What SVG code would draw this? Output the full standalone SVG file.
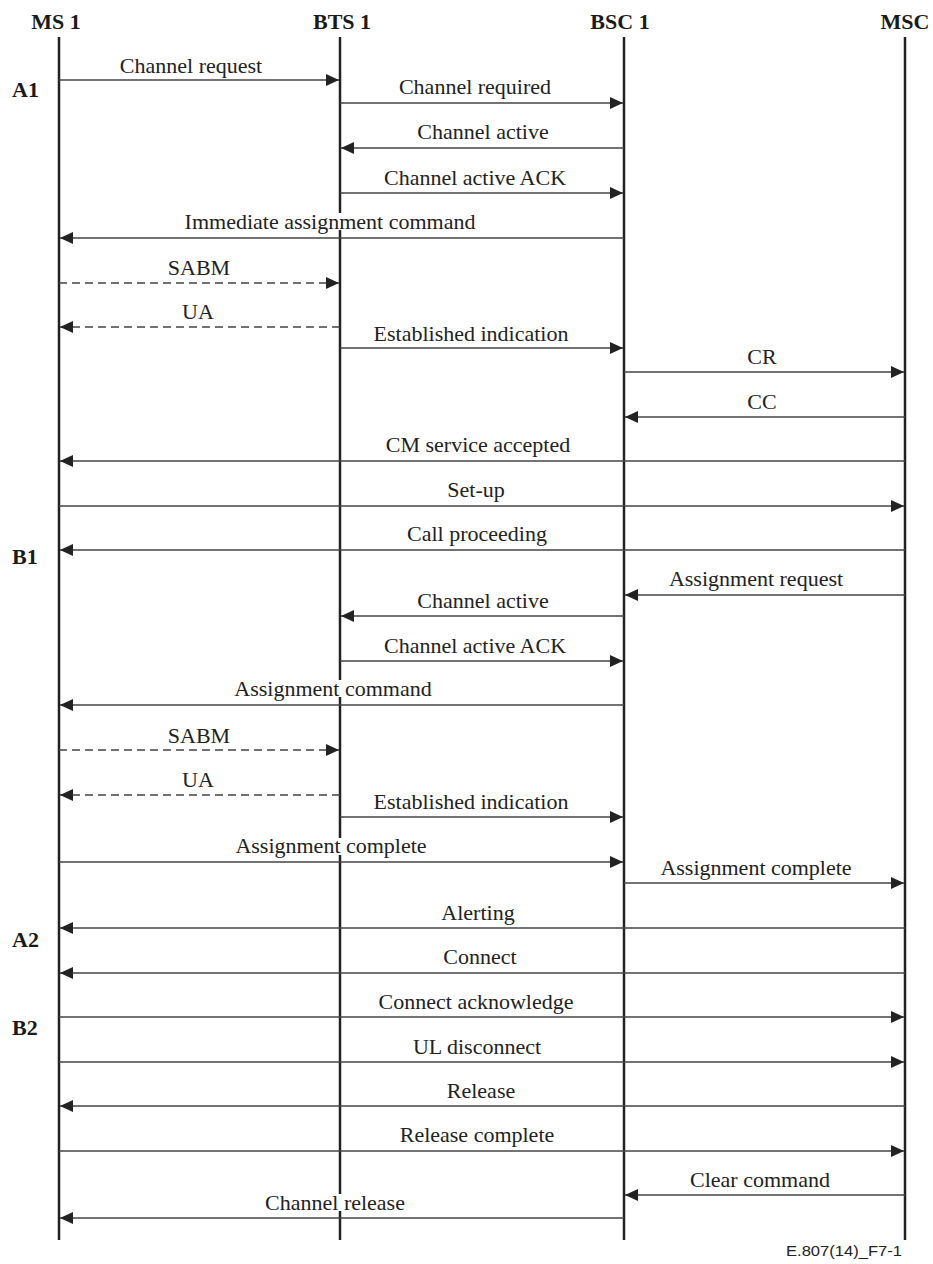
<svg xmlns="http://www.w3.org/2000/svg" width="933" height="1264" viewBox="0 0 933 1264">
<style>
.hdr{font-family:"Liberation Serif","Times New Roman",serif;font-weight:bold;font-size:22px;fill:#1a1a1a;text-anchor:middle}
.side{font-family:"Liberation Serif","Times New Roman",serif;font-weight:bold;font-size:22px;fill:#1a1a1a}
.lbl{font-family:"Liberation Serif","Times New Roman",serif;font-size:22px;fill:#222;text-anchor:middle}
.life{stroke:#222;stroke-width:2.5;fill:none}
.msg{stroke:#444;stroke-width:1.3;fill:none;marker-end:url(#ah)}
.dash{stroke-dasharray:8 5}
.mask{fill:#fff}
.foot{font-family:"Liberation Sans",Arial,sans-serif;font-size:14px;fill:#222;text-anchor:end}
</style>
<defs>
<marker id="ah" markerUnits="userSpaceOnUse" markerWidth="14" markerHeight="13" refX="13" refY="6" orient="auto">
<path d="M0,0 L13,6 L0,12 z" fill="#222"/>
</marker>
</defs>
<rect width="933" height="1264" fill="#fff"/>
<g id="node-ms1"><text class="hdr" x="56" y="29">MS 1</text><line class="life" x1="59" y1="37" x2="59" y2="1240"/></g>
<g id="node-bts1"><text class="hdr" x="342" y="29">BTS 1</text><line class="life" x1="340" y1="37" x2="340" y2="1240"/></g>
<g id="node-bsc1"><text class="hdr" x="620" y="29">BSC 1</text><line class="life" x1="624" y1="37" x2="624" y2="1240"/></g>
<g id="node-msc"><text class="hdr" x="905" y="29">MSC</text><line class="life" x1="905" y1="37" x2="905" y2="1240"/></g>
<g id="side-labels">
<text class="side" x="12" y="97">A1</text>
<text class="side" x="12" y="564">B1</text>
<text class="side" x="12" y="947">A2</text>
<text class="side" x="12" y="1035">B2</text>
</g>
<g id="connectors">
<line class="msg" x1="59" y1="80" x2="339" y2="80"/>
<line class="msg" x1="340" y1="103" x2="623" y2="103"/>
<line class="msg" x1="624" y1="148" x2="341" y2="148"/>
<line class="msg" x1="340" y1="193" x2="623" y2="193"/>
<line class="msg" x1="624" y1="238" x2="60" y2="238"/>
<line class="msg dash" x1="59" y1="283" x2="339" y2="283"/>
<line class="msg dash" x1="340" y1="327" x2="60" y2="327"/>
<line class="msg" x1="340" y1="348" x2="623" y2="348"/>
<line class="msg" x1="624" y1="372" x2="904" y2="372"/>
<line class="msg" x1="905" y1="417" x2="625" y2="417"/>
<line class="msg" x1="905" y1="461" x2="60" y2="461"/>
<line class="msg" x1="59" y1="506" x2="904" y2="506"/>
<line class="msg" x1="905" y1="550" x2="60" y2="550"/>
<line class="msg" x1="905" y1="595" x2="625" y2="595"/>
<line class="msg" x1="624" y1="616" x2="341" y2="616"/>
<line class="msg" x1="340" y1="661" x2="623" y2="661"/>
<line class="msg" x1="624" y1="705" x2="60" y2="705"/>
<line class="msg dash" x1="59" y1="750" x2="339" y2="750"/>
<line class="msg dash" x1="340" y1="795" x2="60" y2="795"/>
<line class="msg" x1="340" y1="817" x2="623" y2="817"/>
<line class="msg" x1="59" y1="862" x2="623" y2="862"/>
<line class="msg" x1="624" y1="883" x2="904" y2="883"/>
<line class="msg" x1="905" y1="928" x2="60" y2="928"/>
<line class="msg" x1="905" y1="973" x2="60" y2="973"/>
<line class="msg" x1="59" y1="1017" x2="904" y2="1017"/>
<line class="msg" x1="59" y1="1062" x2="904" y2="1062"/>
<line class="msg" x1="905" y1="1106" x2="60" y2="1106"/>
<line class="msg" x1="59" y1="1151" x2="904" y2="1151"/>
<line class="msg" x1="905" y1="1195" x2="625" y2="1195"/>
<line class="msg" x1="624" y1="1218" x2="60" y2="1218"/>
</g>
<g id="labels">
<text class="lbl" x="191" y="73">Channel request</text>
<text class="lbl" x="475" y="94">Channel required</text>
<text class="lbl" x="483" y="139">Channel active</text>
<text class="lbl" x="475" y="185">Channel active ACK</text>
<rect class="mask" x="336" y="213" width="8" height="17"/>
<text class="lbl" x="330" y="229">Immediate assignment command</text>
<text class="lbl" x="199" y="275">SABM</text>
<text class="lbl" x="198" y="319">UA</text>
<text class="lbl" x="471" y="341">Established indication</text>
<text class="lbl" x="762" y="364">CR</text>
<text class="lbl" x="762" y="409">CC</text>
<text class="lbl" x="478" y="452">CM service accepted</text>
<text class="lbl" x="476" y="497">Set-up</text>
<text class="lbl" x="477" y="541">Call proceeding</text>
<text class="lbl" x="756" y="586">Assignment request</text>
<text class="lbl" x="483" y="608">Channel active</text>
<text class="lbl" x="475" y="653">Channel active ACK</text>
<rect class="mask" x="336" y="680" width="8" height="17"/>
<text class="lbl" x="333" y="696">Assignment command</text>
<text class="lbl" x="199" y="743">SABM</text>
<text class="lbl" x="198" y="787">UA</text>
<text class="lbl" x="471" y="809">Established indication</text>
<rect class="mask" x="336" y="838" width="8" height="17"/>
<text class="lbl" x="331" y="853">Assignment complete</text>
<text class="lbl" x="756" y="875">Assignment complete</text>
<text class="lbl" x="478" y="920">Alerting</text>
<text class="lbl" x="480" y="964">Connect</text>
<text class="lbl" x="476" y="1009">Connect acknowledge</text>
<text class="lbl" x="477" y="1054">UL disconnect</text>
<text class="lbl" x="481" y="1098">Release</text>
<text class="lbl" x="477" y="1142">Release complete</text>
<text class="lbl" x="760" y="1187">Clear command</text>
<rect class="mask" x="336" y="1194" width="8" height="17"/>
<text class="lbl" x="335" y="1210">Channel release</text>
</g>
<text class="foot" x="902" y="1256" textLength="116" lengthAdjust="spacingAndGlyphs">E.807(14)_F7-1</text>
</svg>
